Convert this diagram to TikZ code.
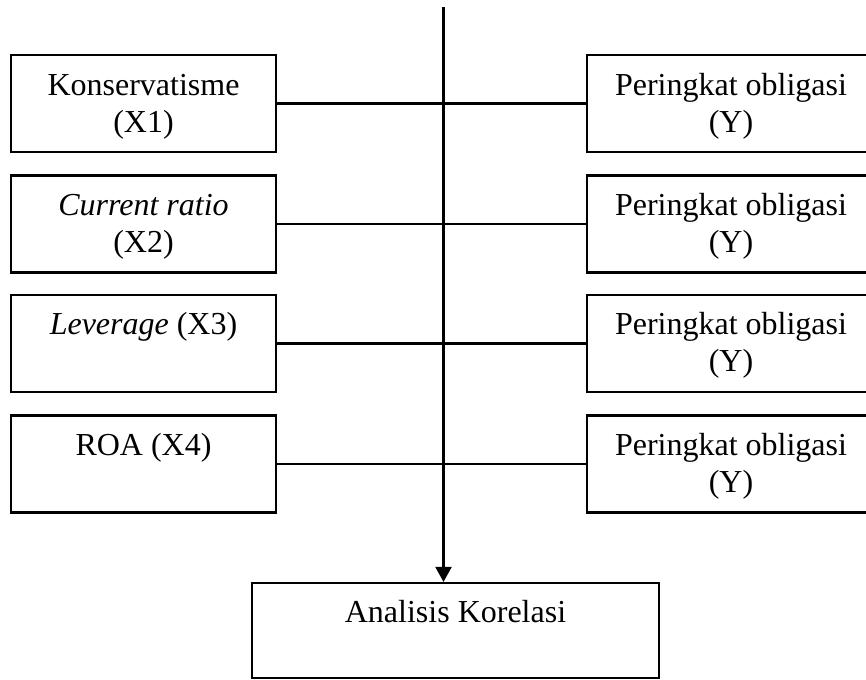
\documentclass[tikz,border=0pt]{standalone}
\usepackage{fontspec}
\setmainfont{Liberation Serif}
\usetikzlibrary{arrows.meta}
\begin{document}
\begin{tikzpicture}[x=1pt,y=-1pt,
  box/.style={draw=black,line width=2.2pt,rectangle,inner sep=0pt},
  lbox/.style={box,minimum width=265pt,minimum height=97pt},
  rbox/.style={box,minimum width=300pt,minimum height=97pt},
  txt/.style={anchor=base,inner sep=0pt,font=\fontsize{32}{37}\selectfont},
  conn/.style={line width=2.2pt}]
\clip (0,0) rectangle (866,679);
\fill[white] (0,0) rectangle (866,679);
% left boxes
\node[lbox] (l1) at (143.5,103.5) {};
\node[lbox] (l2) at (143.5,224) {};
\node[lbox] (l3) at (143.5,343.5) {};
\node[lbox] (l4) at (143.5,464) {};
% right boxes (cut by the right margin)
\node[rbox] (r1) at (737,103.5) {};
\node[rbox] (r2) at (737,224) {};
\node[rbox] (r3) at (737,343.5) {};
\node[rbox] (r4) at (737,464) {};
% bottom box
\node[box,minimum width=407pt,minimum height=95pt] (ak) at (455.5,630.5) {};
% texts
\node[txt] (t1a) at (143.5,96) {Konservatisme};
\node[txt] (t1b) at (143.5,133) {(X1)};
\node[txt] (t2a) at (143.5,215) {\itshape Current ratio};
\node[txt] (t2b) at (143.5,252) {(X2)};
\node[txt] (t3a) at (143.5,334) {\textit{Leverage} (X3)};
\node[txt] (t4a) at (143.5,455) {ROA (X4)};
\node[txt] (u1a) at (731,96) {Peringkat obligasi};
\node[txt] (u1b) at (731,133) {(Y)};
\node[txt] (u2a) at (731,215) {Peringkat obligasi};
\node[txt] (u2b) at (731,252) {(Y)};
\node[txt] (u3a) at (731,334) {Peringkat obligasi};
\node[txt] (u3b) at (731,371) {(Y)};
\node[txt] (u4a) at (731,455) {Peringkat obligasi};
\node[txt] (u4b) at (731,492) {(Y)};
\node[txt] (akt) at (455.5,622) {Analisis Korelasi};
% connectors
\draw[conn] (l1.east) -- (r1.west);
\draw[conn] (l2.east) -- (r2.west);
\draw[conn] (l3.east) -- (r3.west);
\draw[conn] (l4.east) -- (r4.west);
\coordinate (top) at (443.5,7);
\draw[conn,-{Triangle[width=16pt,length=15pt]}] (top) -- (top |- ak.north);
\end{tikzpicture}
\end{document}
